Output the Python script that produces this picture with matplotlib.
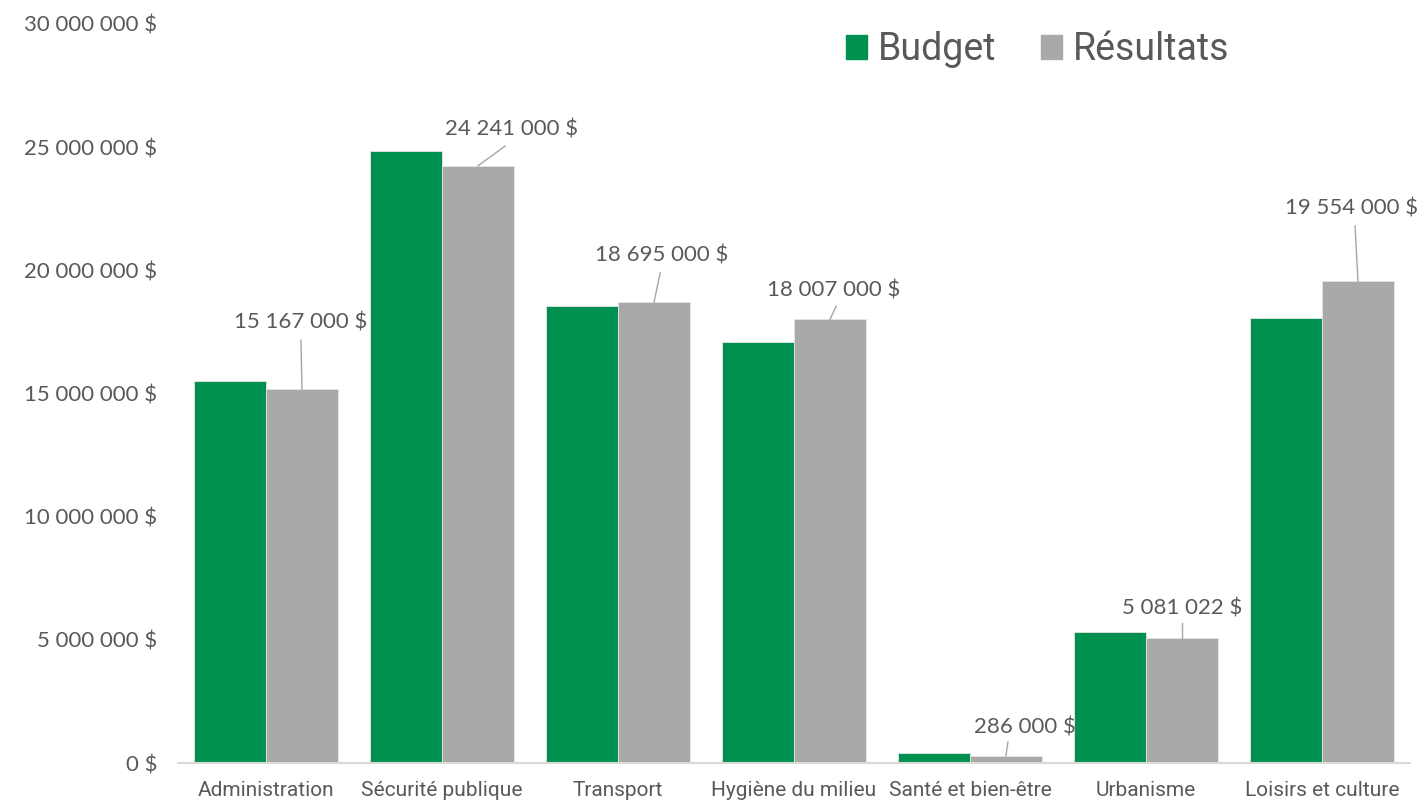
import numpy as np
import matplotlib.pyplot as plt
from matplotlib.patches import Patch

# Data
categories = ['Administration', 'Sécurité publique', 'Transport', 'Hygiène du milieu',
              'Santé et bien-être', 'Urbanisme', 'Loisirs et culture']
budget = [15500000, 24850000, 18550000, 17100000, 410000, 5320000, 18070000]
resultats = [15167000, 24241000, 18695000, 18007000, 286000, 5081022, 19554000]
yticks = [0, 5000000, 10000000, 15000000, 20000000, 25000000, 30000000]

# label placement (offset from bar top: dx in category units, dy in $)
label_dx = [-0.006, 0.19, 0.045, 0.02, 0.11, 0.0, -0.035]
label_dy = [2700000, 1460000, 1890000, 1190000, 1170000, 1210000, 2940000]
line_dx = [-0.006, 0.155, 0.035, 0.035, 0.011, 0.0, -0.017]
line_dy = [2000000, 810000, 1200000, 540000, 570000, 600000, 2250000]

green = '#00904F'
grey = '#A9A9A9'
txt = '#595959'

def fmt(v):
    return f"{v:,.0f}".replace(",", " ") + " $"

fig = plt.figure(figsize=(14.27, 8.01), dpi=100)
ax = fig.add_axes([178/1427, 1 - 763/801, (1410 - 178)/1427, (763 - 24)/801])

x = np.arange(len(categories))
w = 0.409
ax.bar(x - w/2, budget, w, color=green, edgecolor='#E6E6E6', linewidth=0.6, label='Budget')
ax.bar(x + w/2, resultats, w, color=grey, edgecolor='#E6E6E6', linewidth=0.6, label='Résultats')

for i, v in enumerate(resultats):
    bx = x[i] + w/2
    ax.plot([bx, bx + line_dx[i]], [v, v + line_dy[i]], color='#A6A6A6', lw=1, zorder=3)
    ax.text(bx + label_dx[i], v + label_dy[i], fmt(v), ha='center', va='center',
            fontsize=16, color=txt, family='Lato')

ax.set_xlim(-0.5, len(categories) - 0.5)
ax.set_ylim(0, 30000000)
ax.set_yticks(yticks)
ax.set_yticklabels([fmt(t) for t in yticks], fontsize=16, color=txt, family='Lato')
ax.set_xticks(x)
ax.set_xticklabels(categories, fontsize=15, color=txt, family='Roboto')
ax.tick_params(axis='both', length=0)
ax.tick_params(axis='y', pad=15)
ax.tick_params(axis='x', pad=13)

for s in ['top', 'right', 'left']:
    ax.spines[s].set_visible(False)
ax.spines['bottom'].set_color('#D9D9D9')
ax.spines['bottom'].set_linewidth(1.5)

handles = [Patch(color=green), Patch(color=grey)]
leg = fig.legend(handles, ['Budget', 'Résultats'], loc='center left',
                 bbox_to_anchor=(846/1427, 1 - 50/801), bbox_transform=fig.transFigure,
                 ncol=2, frameon=False, handlelength=0.55, handleheight=0.6, handletextpad=0.3,
                 columnspacing=1.2, borderpad=0, borderaxespad=0,
                 prop={'family': 'Roboto', 'size': 27})
for t in leg.get_texts():
    t.set_color(txt)

fig.savefig('out.png', dpi=100)
